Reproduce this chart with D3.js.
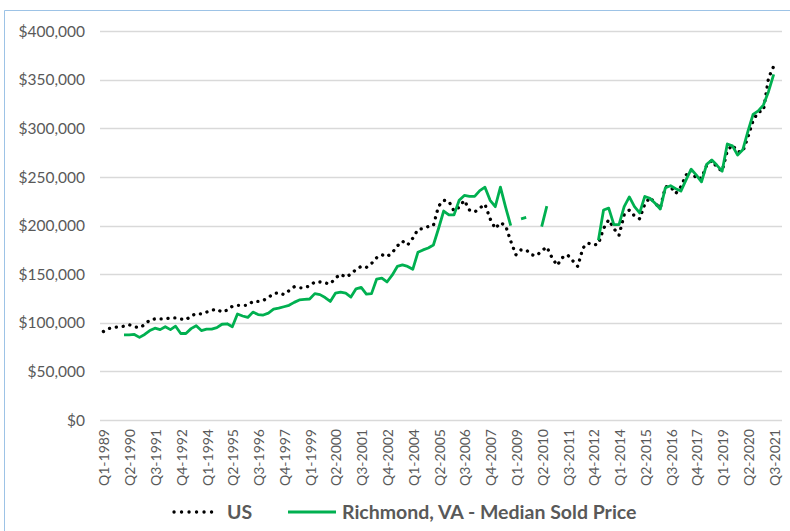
<!DOCTYPE html>
<html>
<head>
<meta charset="utf-8">
<script src="https://cdn.jsdelivr.net/npm/d3@7"></script>
<style>
  html, body { margin: 0; padding: 0; background: #ffffff; }
  svg { display: block; }
</style>
</head>
<body>
<div id="chart"></div>
<script>
// ---------- data ----------
const startYear = 1989;
const quarterCount = 131; // Q1-1989 .. Q3-2021

const tickLabels = ["Q1-1989","Q2-1990","Q3-1991","Q4-1992","Q1-1994","Q2-1995","Q3-1996",
  "Q4-1997","Q1-1999","Q2-2000","Q3-2001","Q4-2002","Q1-2004","Q2-2005","Q3-2006","Q4-2007",
  "Q1-2009","Q2-2010","Q3-2011","Q4-2012","Q1-2014","Q2-2015","Q3-2016","Q4-2017","Q1-2019",
  "Q2-2020","Q3-2021"];

const yTicks = [0, 50000, 100000, 150000, 200000, 250000, 300000, 350000, 400000];

const seriesNames = ["US", "Richmond, VA - Median Sold Price"];

// US median price (dollars), Q1-1989 .. Q3-2021
const usValues = [
  91000, 94000, 95000, 96000, 96500, 98000, 96000, 95000, 98000, 103000,
  104000, 104000, 104000, 105000, 105000, 104000, 103000, 107000, 109500, 109000,
  111000, 113000, 114000, 111000, 113000, 117000, 118000, 118000, 118000, 122000,
  122000, 123000, 126000, 130000, 131000, 129000, 133000, 137000, 136000, 136000,
  138000, 142000, 142000, 141000, 140000, 146000, 150000, 147000, 150000, 155000,
  158000, 157000, 161000, 167000, 170000, 168000, 172000, 179000, 184000, 180000,
  187000, 196000, 197000, 199000, 200000, 220000, 226000, 225000, 215000, 219000,
  226000, 216000, 214000, 218000, 222000, 207000, 197000, 203000, 200000, 184000,
  170000, 175000, 175000, 170000, 169000, 174000, 178000, 167000, 159000, 167000,
  170000, 164000, 158000, 177000, 182000, 180000, 181000, 197000, 206000, 197000,
  190000, 211000, 216000, 210000, 207000, 222000, 229000, 223000, 218000, 240000,
  240000, 233000, 240000, 252000, 257000, 248000, 249000, 262000, 267000, 260000,
  256000, 277000, 283000, 276000, 276000, 291000, 308000, 317000, 318000, 352000,
  364000
];

// Richmond, VA median sold price (dollars); null = no data (gaps in the line)
const richmondValues = [
  null, null, null, null, 87500, 87500, 88000, 85000, 88000, 92000,
  94500, 93000, 96000, 93000, 96500, 89000, 89000, 94000, 97000, 92000,
  93500, 93500, 95000, 98500, 99000, 96000, 109000, 107000, 105500, 111000,
  108500, 108000, 110000, 114000, 115000, 116500, 118000, 121000, 123500, 124000,
  124500, 130000, 129000, 126000, 122000, 130500, 131500, 130500, 126500, 135000,
  136500, 129500, 130000, 145000, 146000, 142000, 149000, 158000, 159500, 158000,
  155000, 172500, 175000, 177000, 180000, 197000, 215000, 211000, 211000, 226000,
  231000, 230000, 230000, 236000, 239500, 226000, 219500, 239500, 219000, 200000,
  null, 207000, 208500, null, null, 199000, 220000, null, null, null,
  null, null, null, null, null, null, 185000, 216000, 218000, 201000,
  201000, 219500, 229500, 219500, 213000, 230000, 228000, 223000, 217000, 239000,
  241000, 238000, 235500, 247000, 258000, 252000, 245000, 263000, 267500, 262000,
  256000, 284000, 282000, 272500, 278000, 297000, 314500, 318000, 324000, 338000,
  355500
];

// category names Q1-1989 ... Q3-2021
const categories = [];
for (let i = 0; i < quarterCount; i++) {
  categories.push("Q" + (i % 4 + 1) + "-" + (startYear + Math.floor(i / 4)));
}

// ---------- layout ----------
const W = 790, H = 531;
const gridLeft = 100, gridRight = 782;
const textColor = "#595959";
const font = "Lato, 'Open Sans', 'DejaVu Sans', sans-serif";

const svg = d3.select("#chart").append("svg")
  .attr("width", W).attr("height", H)
  .style("font-family", font);

// chart frame (light blue, partly cropped)
svg.append("path")
  .attr("d", "M4.5," + H + " V10.5 H" + W)
  .attr("fill", "none")
  .attr("stroke", "#9dc3e6")
  .attr("stroke-width", 1);

const x = d3.scalePoint().domain(categories).range([103.4, 773.7]);
const y = d3.scaleLinear().domain([0, 400000]).range([420, 31.2]);

// gridlines
svg.append("g").selectAll("line").data(yTicks).join("line")
  .attr("x1", gridLeft).attr("x2", gridRight)
  .attr("y1", d => Math.round(y(d)) + 0.5).attr("y2", d => Math.round(y(d)) + 0.5)
  .attr("stroke", "#d9d9d9").attr("stroke-width", 1.3);

// y axis labels
const fmt = d3.format("$,");
svg.append("g").selectAll("text").data(yTicks).join("text")
  .attr("x", 85).attr("y", d => y(d))
  .attr("dy", "0.36em")
  .attr("text-anchor", "end")
  .attr("fill", textColor)
  .style("font-size", "15.5px")
  .text(d => fmt(d));

// x axis labels (rotated)
svg.append("g").selectAll("text").data(tickLabels).join("text")
  .attr("transform", d => "translate(" + (x(d) + 1) + ",429) rotate(-90)")
  .attr("dy", "0.36em")
  .attr("text-anchor", "end")
  .attr("fill", textColor)
  .style("font-size", "14px")
  .text(d => d);

// lines
const line = d3.line()
  .defined(d => d.v != null)
  .x(d => x(d.c))
  .y(d => y(d.v));

const usData = categories.map((c, i) => ({c, v: usValues[i]}));
const rvData = categories.map((c, i) => ({c, v: richmondValues[i]}));

svg.append("path")
  .datum(usData)
  .attr("d", line)
  .attr("fill", "none")
  .attr("stroke", "#000000")
  .attr("stroke-width", 3.3)
  .attr("stroke-linecap", "round")
  .attr("stroke-dasharray", "0.1 6.8");

svg.append("path")
  .datum(rvData)
  .attr("d", line)
  .attr("fill", "none")
  .attr("stroke", "#00b050")
  .attr("stroke-width", 2.8)
  .attr("stroke-linejoin", "round");

// legend
const legY = 512;
const leg = svg.append("g");
leg.append("line")
  .attr("x1", 174).attr("x2", 219).attr("y1", legY).attr("y2", legY)
  .attr("stroke", "#000").attr("stroke-width", 3.3)
  .attr("stroke-linecap", "round").attr("stroke-dasharray", "0.1 7.4");
leg.append("text")
  .attr("x", 227).attr("y", legY).attr("dy", "0.36em")
  .attr("fill", textColor).style("font-size", "19.5px").style("font-weight", "bold")
  .text(seriesNames[0]);
leg.append("line")
  .attr("x1", 288).attr("x2", 336).attr("y1", legY).attr("y2", legY)
  .attr("stroke", "#00b050").attr("stroke-width", 2.8);
leg.append("text")
  .attr("x", 342).attr("y", legY).attr("dy", "0.36em")
  .attr("fill", textColor).style("font-size", "19.5px").style("font-weight", "bold")
  .text(seriesNames[1]);
</script>
</body>
</html>
